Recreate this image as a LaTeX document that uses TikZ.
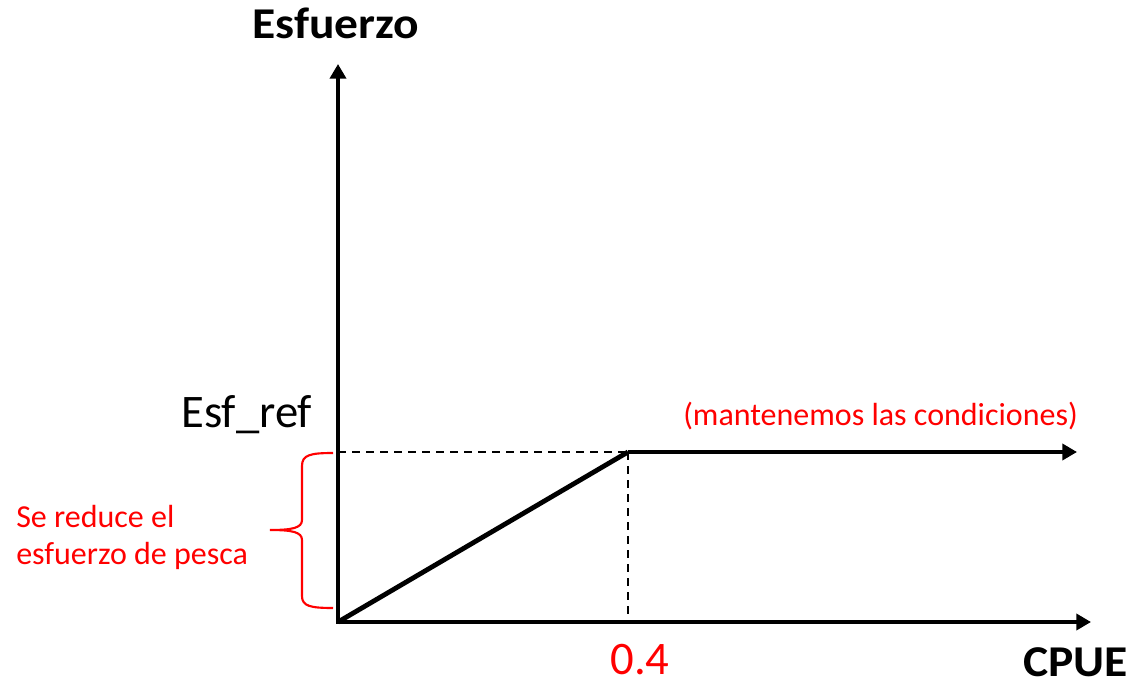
\documentclass[tikz,border=0pt]{standalone}
\usepackage{fontspec}
\setmainfont{Carlito}
\usetikzlibrary{arrows.meta,calc,positioning}
\tikzset{>={Triangle[length=11pt,width=12pt]}}
\tikzset{
  axisline/.style={line width=3.6pt,->},
  dashline/.style={line width=1.3pt,dash pattern=on 6pt off 4.5pt},
  redtext/.style={text=red,font=\fontsize{24}{27.75}\selectfont},
  bigtext/.style={font=\fontsize{35}{40}\selectfont},
  boldtext/.style={font=\bfseries\fontsize{33}{38}\selectfont,xscale=1.08}
}
\begin{document}
\begin{tikzpicture}[x=0.75pt,y=-0.75pt,inner sep=0pt]
\useasboundingbox (0,0) rectangle (1132,681);

\coordinate (origin) at (338,622);
\coordinate (ytop) at (338,64);
\coordinate (xend) at (1091,622);
\coordinate (kink) at (628,452);
\coordinate (kinkend) at (1077,452);
\coordinate (ref) at (338,452);

% dashed guides
\draw[dashline] (ref) -- (kink);
\draw[dashline] (kink) -- ($(kink |- origin)+(0,-7)$);

% axes
\draw[axisline] ($(origin)+(0,1.5)$) -- (ytop);
\draw[axisline] ($(origin)+(-2,0)$) -- (xend);

% rule
\draw[line width=3.6pt,line join=round] (origin) -- (kink);
\draw[axisline] (kink) -- (kinkend);

% brace
\draw[red,line width=1.6pt] (333,453) .. controls (310,453) and (302,455) .. (302,466)
  -- (302,520) .. controls (302,528) and (292,530) .. (270,530)
  .. controls (292,530) and (302,532) .. (302,540)
  -- (302,596) .. controls (302,606) and (310,608) .. (333,608);

% labels
\node[boldtext,anchor=base] (ylab) at (336,39) {Esfuerzo};
\node[boldtext,anchor=base east] (xlab) at (1128,676) {CPUE};
\node[bigtext,anchor=base west] (esfref) at (181,427) {Esf\_ref};
\node[bigtext,text=red,anchor=base] (cut) at (640,674) {0.4};
\node[redtext,anchor=base west] (keep) at (683,425) {(mantenemos las condiciones)};
\node[redtext,anchor=base west,align=left] (reduce) at (16,564) {Se reduce el\\esfuerzo de pesca};
\end{tikzpicture}
\end{document}
